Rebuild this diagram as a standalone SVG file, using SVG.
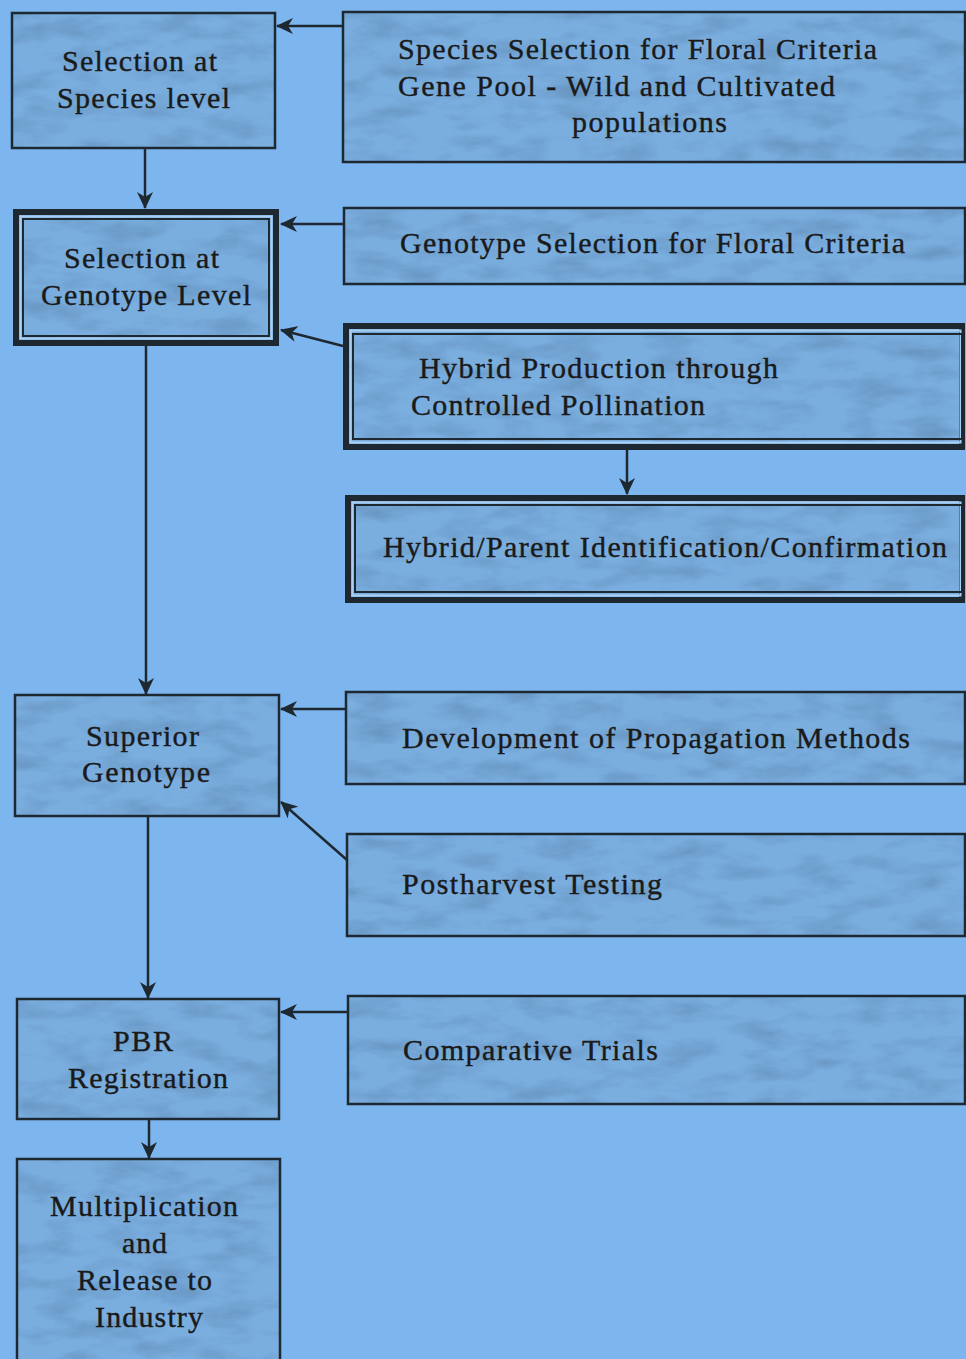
<svg xmlns="http://www.w3.org/2000/svg" width="966" height="1359" viewBox="0 0 966 1359">
<defs>
<filter id="marble" x="0" y="0" width="100%" height="100%" color-interpolation-filters="sRGB">
<feTurbulence type="fractalNoise" baseFrequency="0.02 0.05" numOctaves="4" seed="11" result="n"/>
<feColorMatrix in="n" type="matrix" values="0 0 0 0 0.36  0 0 0 0 0.52  0 0 0 0 0.68  1.2 0 0 0 -0.52" result="c"/>
<feComposite in="c" in2="SourceGraphic" operator="in" result="t"/>
<feMerge><feMergeNode in="SourceGraphic"/><feMergeNode in="t"/></feMerge>
</filter>
<marker id="ah" markerUnits="userSpaceOnUse" markerWidth="18" markerHeight="16" refX="16" refY="8" orient="auto">
<path d="M0,0 L17,8 L0,16 L5,8 z" fill="#1e2830"/>
</marker>
</defs>
<style>
.fill{fill:#7aaedf;filter:url(#marble)}
.b{fill:none;stroke:#1e2830;stroke-width:2.5}
.thick{fill:none;stroke:#1e2830;stroke-width:6}
.gap{fill:none;stroke:#a9cff2;stroke-width:2}
.thin{fill:none;stroke:#1e2830;stroke-width:2}
.t{font-size:30px;fill:#1a1a1a;stroke:#1a1a1a;stroke-width:0.4}
.c{fill:none;stroke:#1e2830;stroke-width:2.5;marker-end:url(#ah)}
</style>
<rect x="0" y="0" width="966" height="1359" fill="#7db5ee"/>
<g font-family="Liberation Serif, Times New Roman, DejaVu Serif, serif">
<g id="selection-species">
<rect class="fill" x="12" y="13" width="263" height="135"/>
<rect class="b" x="12" y="13" width="263" height="135"/>
<text class="t" x="62" y="71" textLength="155" lengthAdjust="spacing">Selection at</text>
<text class="t" x="57" y="108" textLength="173" lengthAdjust="spacing">Species level</text>
</g>

<g id="selection-genotype">
<rect class="fill" x="13" y="209" width="266" height="137"/>
<rect class="thick" x="16" y="212" width="260" height="131"/>
<rect class="gap" x="20.5" y="216.5" width="251" height="122"/>
<rect class="thin" x="23" y="219" width="246" height="117"/>
<text class="t" x="64" y="268" textLength="155" lengthAdjust="spacing">Selection at</text>
<text class="t" x="41" y="305" textLength="210" lengthAdjust="spacing">Genotype Level</text>
</g>

<g id="species-selection-criteria">
<rect class="fill" x="343" y="12" width="622" height="150"/>
<rect class="b" x="343" y="12" width="622" height="150"/>
<text class="t" x="398" y="59" textLength="479" lengthAdjust="spacing">Species Selection for Floral Criteria</text>
<text class="t" x="398" y="96" textLength="437" lengthAdjust="spacing">Gene Pool - Wild and Cultivated</text>
<text class="t" x="572" y="132" textLength="155" lengthAdjust="spacing">populations</text>
</g>

<g id="genotype-selection-criteria">
<rect class="fill" x="344" y="208" width="621" height="76"/>
<rect class="b" x="344" y="208" width="621" height="76"/>
<text class="t" x="400" y="253" textLength="505" lengthAdjust="spacing">Genotype Selection for Floral Criteria</text>
</g>

<g id="hybrid-production">
<rect class="fill" x="343" y="323" width="622" height="127"/>
<rect class="thick" x="346" y="326" width="616" height="121"/>
<rect class="gap" x="350.5" y="330.5" width="610" height="112"/>
<rect class="thin" x="353" y="334" width="609" height="105"/>
<text class="t" x="419" y="378" textLength="359" lengthAdjust="spacing">Hybrid Production through</text>
<text class="t" x="411" y="415" textLength="294" lengthAdjust="spacing">Controlled Pollination</text>
</g>

<g id="hybrid-identification">
<rect class="fill" x="345" y="495" width="620" height="108"/>
<rect class="thick" x="348" y="498" width="614" height="102"/>
<rect class="gap" x="352.5" y="502.5" width="608" height="93"/>
<rect class="thin" x="355" y="505" width="607" height="87"/>
<text class="t" x="383" y="557" textLength="564" lengthAdjust="spacing">Hybrid/Parent Identification/Confirmation</text>
</g>

<g id="superior-genotype">
<rect class="fill" x="15" y="695" width="264" height="121"/>
<rect class="b" x="15" y="695" width="264" height="121"/>
<text class="t" x="86" y="746" textLength="113" lengthAdjust="spacing">Superior</text>
<text class="t" x="82" y="782" textLength="128" lengthAdjust="spacing">Genotype</text>
</g>

<g id="propagation-methods">
<rect class="fill" x="346" y="692" width="619" height="92"/>
<rect class="b" x="346" y="692" width="619" height="92"/>
<text class="t" x="402" y="748" textLength="508" lengthAdjust="spacing">Development of Propagation Methods</text>
</g>

<g id="postharvest-testing">
<rect class="fill" x="347" y="834" width="618" height="102"/>
<rect class="b" x="347" y="834" width="618" height="102"/>
<text class="t" x="402" y="894" textLength="260" lengthAdjust="spacing">Postharvest Testing</text>
</g>

<g id="comparative-trials">
<rect class="fill" x="348" y="996" width="617" height="108"/>
<rect class="b" x="348" y="996" width="617" height="108"/>
<text class="t" x="403" y="1060" textLength="255" lengthAdjust="spacing">Comparative Trials</text>
</g>

<g id="pbr-registration">
<rect class="fill" x="17" y="999" width="262" height="120"/>
<rect class="b" x="17" y="999" width="262" height="120"/>
<text class="t" x="113" y="1051" textLength="60" lengthAdjust="spacing">PBR</text>
<text class="t" x="68" y="1088" textLength="160" lengthAdjust="spacing">Registration</text>
</g>

<g id="multiplication-release">
<rect class="fill" x="17" y="1159" width="263" height="215"/>
<rect class="b" x="17" y="1159" width="263" height="215"/>
<text class="t" x="50" y="1216" textLength="188" lengthAdjust="spacing">Multiplication</text>
<text class="t" x="122" y="1253" textLength="45" lengthAdjust="spacing">and</text>
<text class="t" x="77" y="1290" textLength="135" lengthAdjust="spacing">Release to</text>
<text class="t" x="95" y="1327" textLength="108" lengthAdjust="spacing">Industry</text>
</g>
</g>
<g id="connectors">
<line class="c" x1="343" y1="26" x2="277" y2="26"/>
<line class="c" x1="145" y1="148" x2="145" y2="208"/>
<line class="c" x1="344" y1="224" x2="281" y2="224"/>
<line class="c" x1="343" y1="346" x2="281" y2="330"/>
<line class="c" x1="627" y1="450" x2="627" y2="494"/>
<line class="c" x1="146" y1="346" x2="146" y2="694"/>
<line class="c" x1="346" y1="709" x2="281" y2="709"/>
<line class="c" x1="347" y1="860" x2="281" y2="802"/>
<line class="c" x1="148" y1="816" x2="148" y2="998"/>
<line class="c" x1="348" y1="1012" x2="281" y2="1012"/>
<line class="c" x1="149" y1="1119" x2="149" y2="1158"/>
</g>
</svg>
